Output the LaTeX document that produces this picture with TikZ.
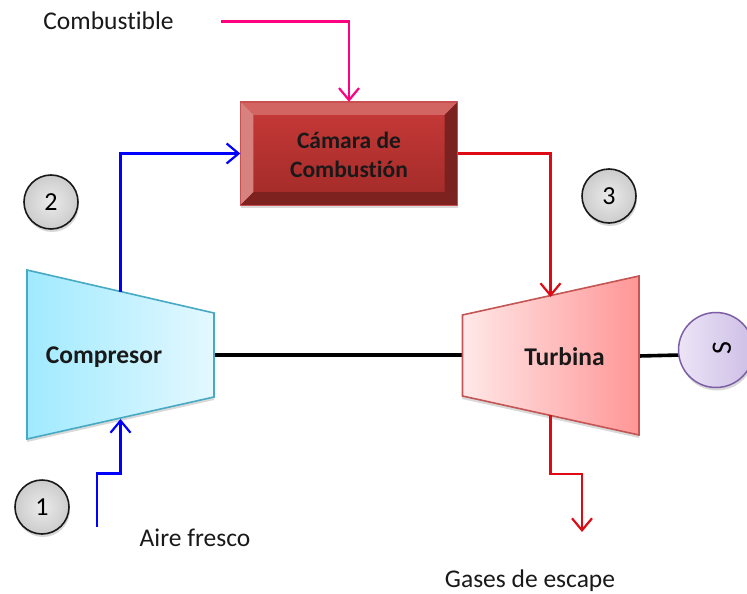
\documentclass[tikz,border=0pt]{standalone}
\usepackage{fontspec}
\setmainfont[Ligatures=NoCommon]{Carlito}
\usetikzlibrary{arrows.meta,shadows,calc}
\definecolor{bluel}{RGB}{0,0,255}
\definecolor{redl}{RGB}{222,10,20}
\definecolor{pinkl}{RGB}{255,0,128}
\tikzset{
  x=1pt,y=-1pt,
  lbl/.style={font=\fontsize{25.5}{29}\selectfont,inner sep=0pt,text=black!90},
  blbl/.style={font=\fontsize{25.5}{30}\selectfont\bfseries,inner sep=0pt,align=center,text=black!90},
  clbl/.style={font=\fontsize{23.5}{29}\selectfont\bfseries,inner sep=0pt,align=center,text=black!90},
  flow/.style={line width=2.2pt,-{Straight Barb[length=12pt,width=20pt,line width=2.2pt]},line join=miter},
  num/.style={circle,draw=black!90,line width=1.6pt,minimum size=54pt,inner sep=0pt,
    inner color=white!92!black,outer color=black!20,
    font=\fontsize{26}{30}\selectfont,drop shadow={shadow xshift=1pt,shadow yshift=-3pt,opacity=.3}},
  shaft/.style={line width=3.6pt,black},
  softshadow/.style={fill=black,opacity=.15},
}
\begin{document}
\begin{tikzpicture}
\useasboundingbox (0,0) rectangle (747,594);
\fill[white] (0,0) rectangle (747,594);
% anchor coordinates
\coordinate (cT) at (120.5,292);
\coordinate (cB) at (120.5,419);
\coordinate (cE) at (214,355);
\coordinate (tW) at (462,355);
\coordinate (tT) at (550.5,297);
\coordinate (tB) at (550.5,415);
\coordinate (tE) at (639,356);
\coordinate (fuelStart) at (221,21.5);
\coordinate (airStart) at (97,527);
\coordinate (exhaustEnd) at (582,532);
% shadows
\fill[softshadow] (27,273) -- (214,316) -- (214,400) -- (27,442) -- cycle;
\fill[softshadow] (462,318) -- (639,279) -- (639,438) -- (462,399) -- cycle;
\fill[softshadow] (241,105) rectangle (458,208);
% shaft
\draw[shaft] (cE) -- (tW);
\draw[shaft] (tE) -- (680,355);
% compressor
\path[draw={rgb,255:red,70;green,170;blue,195},line width=1.6pt,
  left color={rgb,255:red,160;green,234;blue,255},right color={rgb,255:red,228;green,248;blue,255}]
  (27,270) -- (214,313) -- (214,397) -- (27,439) -- cycle;
\node[blbl] (comp) at (104,357) {Compresor};
% turbine
\path[draw={rgb,255:red,195;green,85;blue,85},line width=1.6pt,
  left color={rgb,255:red,255;green,232;blue,232},right color={rgb,255:red,255;green,150;blue,150}]
  (462.5,315) -- (639,276) -- (639,435) -- (462.5,396) -- cycle;
\node[blbl] (turb) at (564.5,357) {Turbina};
% chamber
\node[rectangle,minimum width=217pt,minimum height=103pt,inner sep=0pt,
  top color={rgb,255:red,200;green,58;blue,56},bottom color={rgb,255:red,160;green,42;blue,40}] (cam) at (349,153.5) {};
\fill[fill={rgb,255:red,210;green,100;blue,98}] (cam.north west) -- (cam.north east) -- ++(-13,13) -- ($(cam.north west)+(13,13)$) -- cycle;
\fill[fill={rgb,255:red,216;green,130;blue,128}] (cam.north west) -- (cam.south west) -- ++(13,-13) -- ($(cam.north west)+(13,13)$) -- cycle;
\fill[fill={rgb,255:red,122;green,34;blue,32}] (cam.north east) -- (cam.south east) -- ++(-13,-13) -- ($(cam.north east)+(-13,13)$) -- cycle;
\fill[fill={rgb,255:red,125;green,34;blue,30}] (cam.south west) -- (cam.south east) -- ++(-13,-13) -- ($(cam.south west)+(13,-13)$) -- cycle;
\draw[draw={rgb,255:red,200;green,80;blue,80},line width=1.4pt] (cam.north west) rectangle (cam.south east);
\node[clbl] (camtext) at (349,154.5) {Cámara de\\Combustión};
% generator
\node[circle,minimum size=75pt,inner sep=0pt,draw={rgb,255:red,125;green,95;blue,165},line width=1.5pt,
  left color={rgb,255:red,236;green,228;blue,246},right color={rgb,255:red,205;green,190;blue,230},
  drop shadow={shadow xshift=1pt,shadow yshift=-3pt,opacity=.3}] (gen) at (716,350) {};
\node[rotate=90,inner sep=0pt,font=\fontsize{28}{30}\selectfont] (gentext) at (722,348) {S};
% numbered circles
\node[num] (n1) at (42,507) {1};
\node[num] (n2) at (51,202) {2};
\node[num] (n3) at (609,196) {3};
% labels
\node[lbl] (fuel) at (108.5,20.5) {Combustible};
\node[lbl] (air) at (195,537.5) {Aire fresco};
\node[lbl] (exh) at (530,580.5) {Gases de escape};
% flows
\draw[flow,pinkl] (fuelStart) -| (cam.north);
\draw[flow,bluel] (cT) |- (cam.west);
\draw[flow,redl] (cam.east) -| (tT);
\draw[flow,bluel] (airStart) -- (97,473.5) -- (120.5,473.5) -- (cB);
\draw[flow,redl] (tB) -- (550.5,474) -- (582,474) -- (exhaustEnd);
\end{tikzpicture}
\end{document}
